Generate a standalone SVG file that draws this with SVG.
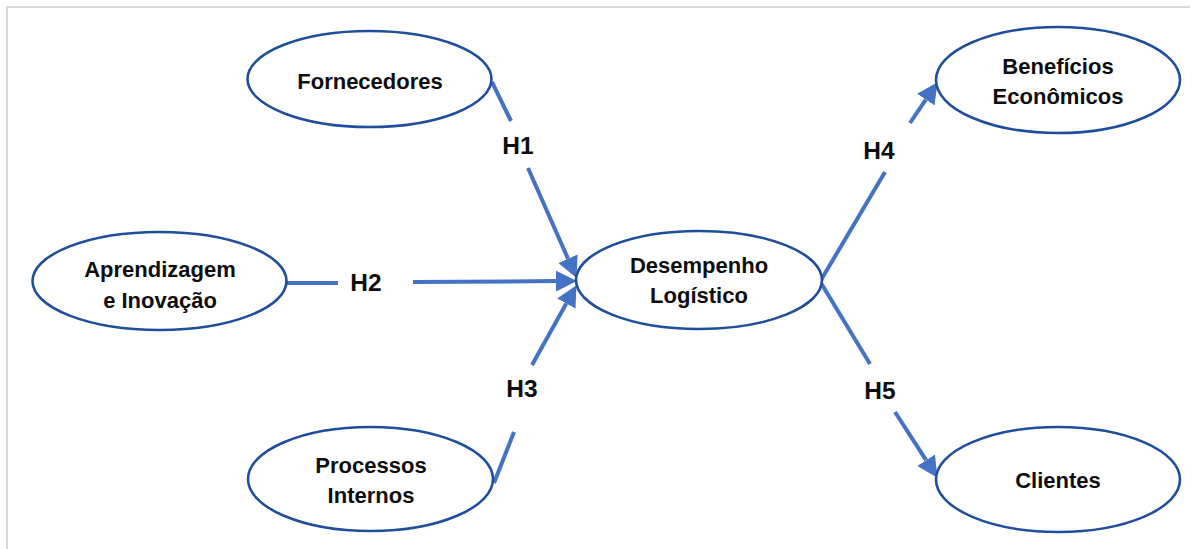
<svg xmlns="http://www.w3.org/2000/svg" width="1199" height="549" viewBox="0 0 1199 549">
  <style>
    .node ellipse { fill: #ffffff; stroke: #1f4e9d; stroke-width: 2.6; }
    .node text, .label { font-family: "Liberation Sans", Arial, sans-serif; font-weight: bold; font-size: 22px; fill: #0d0d0d; text-anchor: middle; }
    .label { font-size: 24.5px; }
    .edge { stroke: #4472c4; stroke-width: 4; fill: none; }
    .frame { stroke: #d9d9d9; stroke-width: 2; fill: none; }
  </style>
  <defs>
    <marker id="arrow" markerUnits="userSpaceOnUse" markerWidth="22" markerHeight="22" viewBox="0 -11 22 22" refX="0" refY="0" orient="auto">
      <path d="M0,-10.5 L21,0 L0,10.5 z" fill="#4472c4"/>
    </marker>
  </defs>

  <rect width="1199" height="549" fill="#ffffff"/>
  <!-- outer frame (top and left edges) -->
  <path class="frame" d="M7,549 L7,7 L1190,7"/>

  <!-- connectors -->
  <g id="connectors">
    <!-- H1 -->
    <line class="edge" x1="492" y1="82" x2="511" y2="121"/>
    <line class="edge" x1="528" y1="168" x2="568" y2="258.7" marker-end="url(#arrow)"/>
    <!-- H2 -->
    <line class="edge" x1="287" y1="283" x2="338" y2="283"/>
    <line class="edge" x1="413" y1="282" x2="556" y2="281.1" marker-end="url(#arrow)"/>
    <!-- H3 -->
    <line class="edge" x1="494" y1="483" x2="514" y2="432"/>
    <line class="edge" x1="532" y1="365" x2="566.3" y2="303.5" marker-end="url(#arrow)"/>
    <!-- H4 -->
    <line class="edge" x1="821" y1="280" x2="885" y2="172"/>
    <line class="edge" x1="910" y1="123" x2="925.8" y2="99.6" marker-end="url(#arrow)"/>
    <!-- H5 -->
    <line class="edge" x1="821" y1="283" x2="870" y2="364"/>
    <line class="edge" x1="895" y1="412" x2="926.1" y2="460.2" marker-end="url(#arrow)"/>

    <text class="label" x="518" y="154">H1</text>
    <text class="label" x="366" y="291">H2</text>
    <text class="label" x="522" y="397">H3</text>
    <text class="label" x="879" y="159">H4</text>
    <text class="label" x="880" y="399">H5</text>
  </g>

  <g id="fornecedores" class="node">
    <ellipse cx="369.5" cy="79" rx="122" ry="48"/>
    <text x="370" y="89">Fornecedores</text>
  </g>

  <g id="aprendizagem" class="node">
    <ellipse cx="159.5" cy="281" rx="127" ry="49"/>
    <text x="160" y="277">Aprendizagem</text>
    <text x="160" y="308">e Inovação</text>
  </g>

  <g id="processos" class="node">
    <ellipse cx="370.5" cy="479" rx="122.5" ry="52"/>
    <text x="371" y="473">Processos</text>
    <text x="371" y="503">Internos</text>
  </g>

  <g id="desempenho" class="node">
    <ellipse cx="699" cy="280" rx="123" ry="49"/>
    <text x="699" y="273">Desempenho</text>
    <text x="699" y="303">Logístico</text>
  </g>

  <g id="beneficios" class="node">
    <ellipse cx="1058" cy="80" rx="122" ry="53"/>
    <text x="1058" y="74">Benefícios</text>
    <text x="1058" y="104">Econômicos</text>
  </g>

  <g id="clientes" class="node">
    <ellipse cx="1058" cy="479.5" rx="122" ry="52.5"/>
    <text x="1058" y="488">Clientes</text>
  </g>
</svg>
